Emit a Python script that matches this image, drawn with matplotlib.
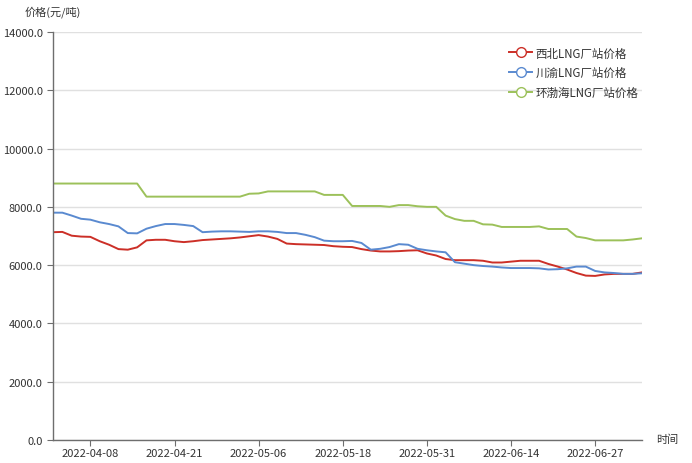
import matplotlib
matplotlib.use('Agg')
import matplotlib.pyplot as plt
from matplotlib.lines import Line2D

plt.rcParams['font.family'] = ['Noto Sans CJK SC', 'DejaVu Sans']

dates = [
    '2022-04-01', '2022-04-02', '2022-04-06', '2022-04-07', '2022-04-08',
    '2022-04-11', '2022-04-12', '2022-04-13', '2022-04-14', '2022-04-15',
    '2022-04-18', '2022-04-19', '2022-04-20', '2022-04-21', '2022-04-22',
    '2022-04-24', '2022-04-25', '2022-04-26', '2022-04-27', '2022-04-28',
    '2022-04-29', '2022-05-05', '2022-05-06', '2022-05-07', '2022-05-09',
    '2022-05-10', '2022-05-11', '2022-05-12', '2022-05-13', '2022-05-16',
    '2022-05-17', '2022-05-18', '2022-05-19', '2022-05-20', '2022-05-23',
    '2022-05-24', '2022-05-25', '2022-05-26', '2022-05-27', '2022-05-30',
    '2022-05-31', '2022-06-01', '2022-06-02', '2022-06-06', '2022-06-07',
    '2022-06-08', '2022-06-09', '2022-06-10', '2022-06-13', '2022-06-14',
    '2022-06-15', '2022-06-16', '2022-06-17', '2022-06-20', '2022-06-21',
    '2022-06-22', '2022-06-23', '2022-06-24', '2022-06-27', '2022-06-28',
    '2022-06-29', '2022-06-30', '2022-07-01', '2022-07-04',
]

xibei = [
    7130, 7140, 7010, 6980, 6970, 6820, 6700, 6550, 6530, 6610,
    6850, 6870, 6870, 6820, 6790, 6820, 6860, 6880, 6900, 6920,
    6950, 6990, 7030, 6980, 6900, 6740, 6720, 6710, 6700, 6690,
    6650, 6630, 6620, 6550, 6500, 6470, 6470, 6480, 6500, 6510,
    6400, 6330, 6210, 6170, 6170, 6170, 6150, 6090, 6090, 6120,
    6150, 6150, 6150, 6040, 5950, 5850, 5730, 5640, 5630, 5680,
    5700, 5700, 5700, 5750,
]

chuanyu = [
    7800, 7800, 7700, 7590, 7560, 7470, 7410, 7330, 7100, 7090,
    7250, 7340, 7410, 7410, 7380, 7340, 7130, 7150, 7160, 7160,
    7150, 7140, 7160, 7160, 7140, 7100, 7100, 7040, 6960, 6840,
    6820, 6820, 6830, 6760, 6530, 6560, 6620, 6720, 6700, 6560,
    6510, 6470, 6440, 6100, 6050, 6000, 5970, 5950, 5920, 5900,
    5900, 5900, 5890, 5850, 5860, 5890, 5950, 5950, 5800, 5750,
    5730, 5700, 5700, 5720,
]

huanbohai = [
    8800, 8800, 8800, 8800, 8800, 8800, 8800, 8800, 8800, 8800,
    8350, 8350, 8350, 8350, 8350, 8350, 8350, 8350, 8350, 8350,
    8350, 8450, 8460, 8530, 8530, 8530, 8530, 8530, 8530, 8410,
    8410, 8410, 8030, 8030, 8030, 8030, 8000, 8060, 8060, 8020,
    8000, 8000, 7700, 7580, 7520, 7520, 7400, 7390, 7310, 7310,
    7310, 7310, 7330, 7240, 7240, 7240, 6980, 6930, 6850, 6850,
    6850, 6850, 6880, 6920,
]

names = ['西北LNG厂站价格', '川渝LNG厂站价格', '环渤海LNG厂站价格']
colors = ['#cc2f27', '#5a8ad0', '#9cc15a']

fig = plt.figure(figsize=(6.92, 4.64), dpi=100)
ax = fig.add_axes([0.0766, 0.0496, 0.851, 0.8793])

x = list(range(len(dates)))
handles = []
for ys, name, c in zip([xibei, chuanyu, huanbohai], names, colors):
    ax.plot(x, ys, color=c, lw=1.4)
    handles.append(Line2D([], [], color=c, lw=1.4, marker='o', markersize=7,
                          markerfacecolor='white', markeredgewidth=1.0))

ax.set_xlim(0, len(dates) - 1)
ax.set_ylim(0, 14000)
ax.set_yticks(range(0, 14001, 2000))
ax.set_yticklabels([f'{v:.1f}' for v in range(0, 14001, 2000)])
tick_idx = list(range(4, len(dates), 9))
ax.set_xticks(tick_idx)
ax.set_xticklabels([dates[i] for i in tick_idx])

ax.grid(axis='y', color='#e0e0e0', lw=1)
ax.set_axisbelow(True)
for s in ['top', 'right']:
    ax.spines[s].set_visible(False)
for s in ['left', 'bottom']:
    ax.spines[s].set_color('#6e6e6e')
    ax.spines[s].set_linewidth(1)
ax.tick_params(axis='both', colors='#6e6e6e', labelcolor='#333333',
               labelsize=8, length=4)
ax.tick_params(axis='x', pad=2)

fig.text(0.036, 0.974, '价格(元/吨)', fontsize=8, color='#333333', va='center')
fig.text(0.948, 0.052, '时间', fontsize=8, color='#333333', va='center')

ax.legend(handles, names, loc='upper right', bbox_to_anchor=(1.012, 0.99),
          frameon=False, fontsize=8.3, numpoints=1, handlelength=2.0,
          labelspacing=0.6, handletextpad=0.3, labelcolor='#333333')

fig.savefig('out.png', dpi=100)
